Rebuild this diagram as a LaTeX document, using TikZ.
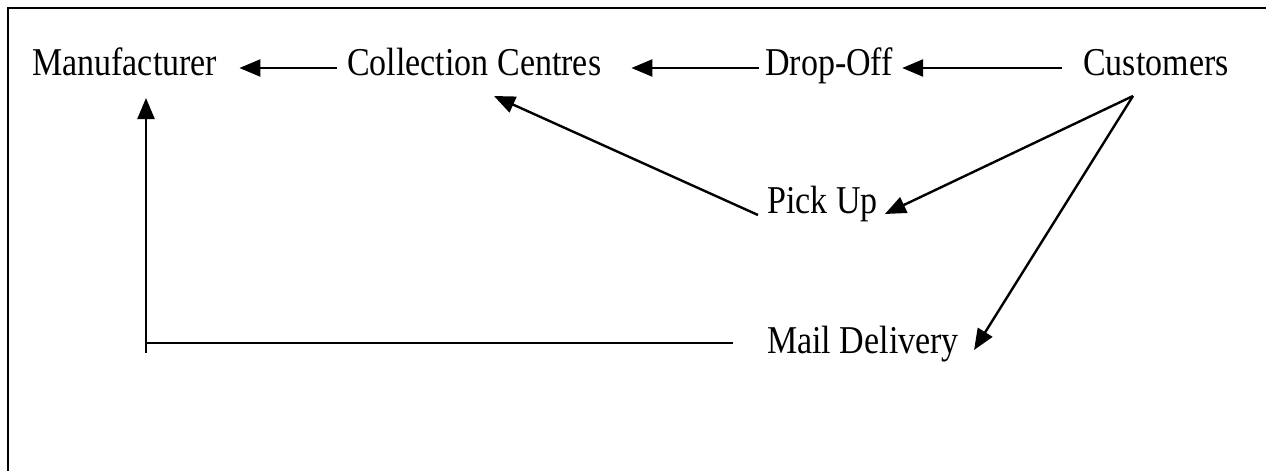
\documentclass[tikz,border=0pt]{standalone}
\usepackage{fontspec}
\setmainfont{Liberation Serif}
\usetikzlibrary{arrows.meta}
\newcommand{\talltext}[1]{\scalebox{1}[1.16]{#1}}
\tikzset{
  lbl/.style={anchor=base west, inner sep=0pt, font=\fontsize{34}{40}\selectfont},
  conn/.style={line width=2.4pt, -{Triangle[length=21pt,width=17pt]}},
  plain/.style={line width=2.4pt},
  frame/.style={line width=2.4pt}
}
\begin{document}
\begin{tikzpicture}[x=1pt,y=-1pt]
\useasboundingbox (0,0) rectangle (1266,471);
\clip (0,0) rectangle (1266,471);
\draw[frame] (8,8) rectangle (1300,520);

\node[lbl] (man)  at (32,75)   {\talltext{Manufacturer}};
\node[lbl] (coll) at (347,75)  {\talltext{Collection Centres}};
\node[lbl] (drop) at (765,75)  {\talltext{Drop-Off}};
\node[lbl] (cust) at (1083,75) {\talltext{Customers}};
\node[lbl] (pick) at (767,213) {\talltext{Pick Up}};
\node[lbl] (mail) at (767,353) {\talltext{Mail Delivery}};

% connector ends
\coordinate (custfork) at ([xshift=50pt,yshift=-21pt]cust.base west);
\coordinate (mailend)  at ([xshift=-34pt,yshift=10pt]mail.base west);
\coordinate (corner)   at ([xshift=114pt]man.base west |- mailend);
\coordinate (cornerlow) at ([yshift=-10pt]corner);

\draw[conn] ([xshift=-10pt,yshift=7pt]coll.base west) -- ([xshift=22pt,yshift=7pt]man.base east);
\draw[conn] ([xshift=-6pt,yshift=7pt]drop.base west) -- ([xshift=30pt,yshift=7pt]coll.base east);
\draw[conn] ([xshift=-21pt,yshift=7pt]cust.base west) -- ([xshift=9pt,yshift=7pt]drop.base east);
\draw[conn] ([xshift=-9pt,yshift=-2pt]pick.base west) -- ([xshift=147pt,yshift=-21pt]coll.base west);
\draw[conn] (custfork) -- ([xshift=7pt,yshift=-1pt]pick.base east);
\draw[conn] (custfork) -- ([xshift=15pt,yshift=3pt]mail.base east);
\draw[plain] (mailend) -- (corner);
\draw[conn] (cornerlow) -- ([xshift=114pt,yshift=-23pt]man.base west);
\end{tikzpicture}
\end{document}
